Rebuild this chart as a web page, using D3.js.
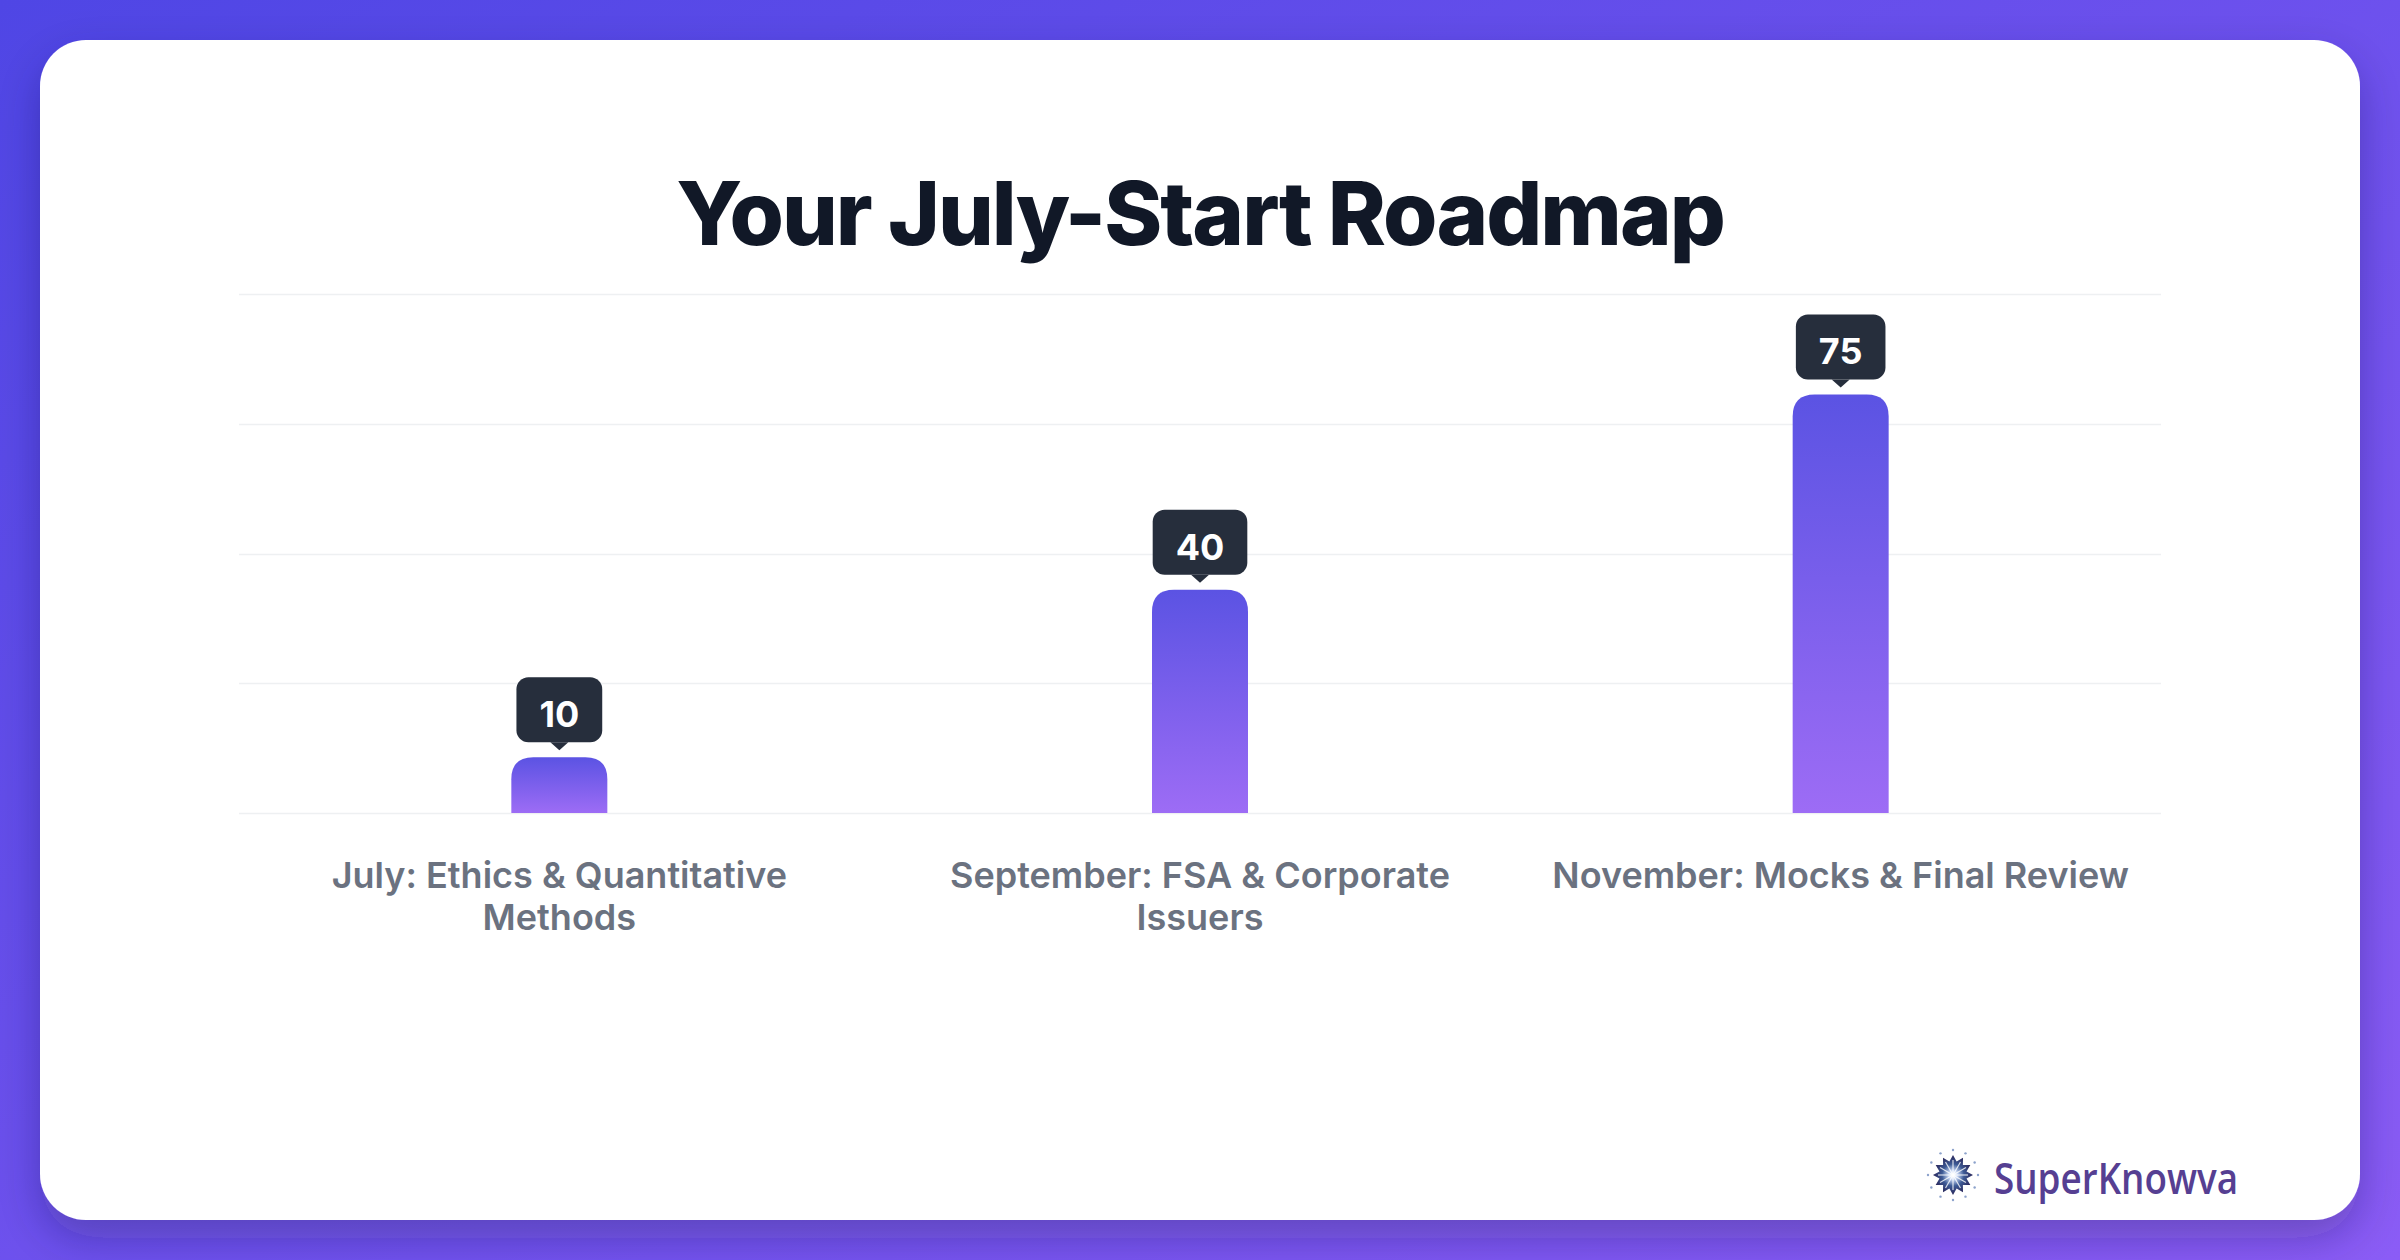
<!DOCTYPE html>
<html>
<head>
<meta charset="utf-8">
<script src="https://cdn.jsdelivr.net/npm/d3@7"></script>
<style>
  html, body { margin: 0; padding: 0; }
  body { width: 2400px; height: 1260px; overflow: hidden; }
</style>
</head>
<body>
<main></main>
<script>
const WIDTH = 2400;
const HEIGHT = 1260;

const TITLE = "Your July-Start Roadmap";
const categories = [
  "July: Ethics & Quantitative Methods",
  "September: FSA & Corporate Issuers",
  "November: Mocks & Final Review",
];
const values = [10, 40, 75];
const BRAND = "SuperKnowva";

const svg = d3
  .create("svg")
  .attr("width", WIDTH)
  .attr("height", HEIGHT)
  .attr("display", "block");

const defs = svg.append("defs");

// Page background gradient.
const bg = defs
  .append("linearGradient")
  .attr("id", "bg")
  .attr("x1", "0")
  .attr("y1", "0")
  .attr("x2", "1")
  .attr("y2", "1");
bg.append("stop").attr("offset", "0%").attr("stop-color", "#4f46e5");
bg.append("stop").attr("offset", "100%").attr("stop-color", "#8b5cf6");

// Bar gradient, top to bottom on each bar.
const barGrad = defs
  .append("linearGradient")
  .attr("id", "bar")
  .attr("x1", "0")
  .attr("y1", "0")
  .attr("x2", "0")
  .attr("y2", "1");
barGrad.append("stop").attr("offset", "0%").attr("stop-color", "#5b53e3");
barGrad.append("stop").attr("offset", "100%").attr("stop-color", "#9d6cf5");

const shadow = defs
  .append("filter")
  .attr("id", "shadow")
  .attr("x", "-10%")
  .attr("y", "-10%")
  .attr("width", "120%")
  .attr("height", "130%");
shadow
  .append("feDropShadow")
  .attr("dx", 0)
  .attr("dy", 18)
  .attr("stdDeviation", 22)
  .attr("flood-color", "#1e1b4b")
  .attr("flood-opacity", 0.3);

// Logo glow.
const glow = defs.append("radialGradient").attr("id", "glow");
glow.append("stop").attr("offset", "0%").attr("stop-color", "#ffffff");
glow.append("stop").attr("offset", "22%").attr("stop-color", "#c9d8f5");
glow.append("stop").attr("offset", "55%").attr("stop-color", "#3d5a95");
glow.append("stop").attr("offset", "100%").attr("stop-color", "#2a2558");

svg.append("rect").attr("width", WIDTH).attr("height", HEIGHT).attr("fill", "url(#bg)");

// White card.
svg
  .append("rect")
  .attr("x", 40)
  .attr("y", 40)
  .attr("width", 2320)
  .attr("height", 1180)
  .attr("rx", 46)
  .attr("fill", "#ffffff")
  .attr("filter", "url(#shadow)");

svg
  .append("text")
  .attr("x", 1200)
  .attr("y", 245)
  .attr("text-anchor", "middle")
  .attr("font-family", "Inter, sans-serif")
  .attr("font-weight", 800)
  .attr("font-size", 88)
  .attr("letter-spacing", "-2px")
  .attr("fill", "#111827")
  .text(TITLE);

// Chart area.
const plotLeft = 239;
const plotRight = 2161;
const plotTop = 294;
const plotBottom = 813;
const yMax = 93;

const x = d3.scaleBand().domain(categories).range([plotLeft, plotRight]).padding(0);
const y = d3.scaleLinear().domain([0, yMax]).range([plotBottom, plotTop]);
const barW = 96;
const radius = 22;

svg
  .append("g")
  .selectAll("line")
  .data(d3.range(5).map((i) => (yMax * i) / 4))
  .join("line")
  .attr("x1", plotLeft)
  .attr("x2", plotRight)
  .attr("y1", (d) => Math.round(y(d)) + 0.5)
  .attr("y2", (d) => Math.round(y(d)) + 0.5)
  .attr("stroke", "#eef0f2")
  .attr("stroke-width", 1.5);

// Bars with rounded tops only.
function barPath(cx, yTop) {
  const x0 = cx - barW / 2;
  const x1 = cx + barW / 2;
  const r = Math.min(radius, (plotBottom - yTop) / 2);
  return (
    `M${x0},${plotBottom}V${yTop + r}Q${x0},${yTop} ${x0 + r},${yTop}` +
    `H${x1 - r}Q${x1},${yTop} ${x1},${yTop + r}V${plotBottom}Z`
  );
}

const data = categories.map((c, i) => ({ cat: c, value: values[i] }));
const cx = (d) => x(d.cat) + x.bandwidth() / 2;

svg
  .append("g")
  .selectAll("path")
  .data(data)
  .join("path")
  .attr("d", (d) => barPath(cx(d), y(d.value)))
  .attr("fill", "url(#bar)");

// Value badges above bars.
const badges = svg
  .append("g")
  .selectAll("g")
  .data(data)
  .join("g")
  .attr("transform", (d) => `translate(${cx(d)},${y(d.value) - 7})`);

badges
  .append("text")
  .attr("y", -23)
  .attr("text-anchor", "middle")
  .attr("font-family", "Inter, sans-serif")
  .attr("font-weight", 700)
  .attr("font-size", 36)
  .attr("fill", "#ffffff")
  .text((d) => d.value);

document.querySelector("main").append(svg.node());

badges.each(function () {
  const g = d3.select(this);
  const w = g.select("text").node().getComputedTextLength() + 46;
  g.insert("path", "text")
    .attr("d", "M-9,-8L0,0L9,-8Z")
    .attr("fill", "#262e3c");
  g.insert("rect", "text")
    .attr("x", -w / 2)
    .attr("y", -73)
    .attr("width", w)
    .attr("height", 65)
    .attr("rx", 12)
    .attr("fill", "#262e3c");
});

// Category labels, wrapped.
const labels = svg
  .append("g")
  .selectAll("text")
  .data(data)
  .join("text")
  .attr("x", cx)
  .attr("y", 888)
  .attr("text-anchor", "middle")
  .attr("font-family", "Inter, sans-serif")
  .attr("font-weight", 600)
  .attr("font-size", 36)
  .attr("fill", "#6b7280");

labels.each(function (d) {
  const t = d3.select(this);
  const words = d.cat.split(" ");
  let line = [];
  let tspan = t.append("tspan").attr("x", cx(d)).attr("dy", 0);
  for (const w of words) {
    line.push(w);
    tspan.text(line.join(" "));
    if (tspan.node().getComputedTextLength() > 590 && line.length > 1) {
      line.pop();
      tspan.text(line.join(" "));
      line = [w];
      tspan = t.append("tspan").attr("x", cx(d)).attr("dy", 42).text(w);
    }
  }
});

// Brand mark: a small star burst.
const logo = svg.append("g").attr("transform", "translate(1953,1175)");
const spikes = 12;
const star = d3.range(spikes * 2).map((i) => {
  const a = (Math.PI * i) / spikes - Math.PI / 2;
  const r = i % 2 === 0 ? 20 : 14;
  return [Math.cos(a) * r, Math.sin(a) * r];
});
logo
  .append("polygon")
  .attr("points", star.map((p) => p.join(",")).join(" "))
  .attr("fill", "url(#glow)");
logo
  .append("g")
  .selectAll("line")
  .data(d3.range(12))
  .join("line")
  .attr("x1", 0)
  .attr("y1", 0)
  .attr("x2", (i) => Math.cos((Math.PI * i) / 6) * 15)
  .attr("y2", (i) => Math.sin((Math.PI * i) / 6) * 15)
  .attr("stroke", "#ffffff")
  .attr("stroke-width", 1.2)
  .attr("opacity", 0.8);
logo
  .append("g")
  .selectAll("circle")
  .data(d3.range(12))
  .join("circle")
  .attr("cx", (i) => Math.cos((Math.PI * i) / 6 - Math.PI / 2) * 25)
  .attr("cy", (i) => Math.sin((Math.PI * i) / 6 - Math.PI / 2) * 25)
  .attr("r", 1.2)
  .attr("fill", "#5b7bb5")
  .attr("opacity", 0.7);

svg
  .append("text")
  .attr("x", 1994)
  .attr("y", 1194)
  .attr("font-family", "'Open Sans', sans-serif")
  .attr("font-weight", 600)
  .attr("font-size", 44)
  .attr("textLength", 244)
  .attr("lengthAdjust", "spacingAndGlyphs")
  .attr("fill", "#563f92")
  .text(BRAND);
</script>
</body>
</html>
